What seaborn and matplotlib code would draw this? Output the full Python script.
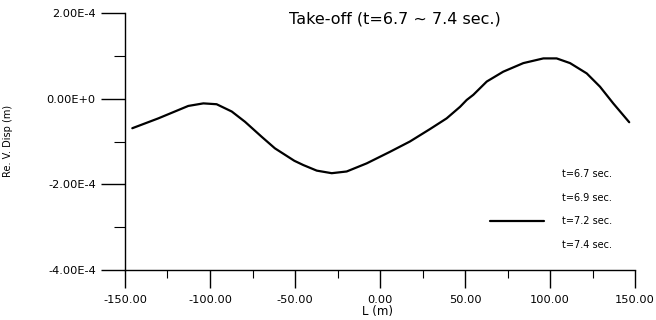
import numpy as np
import pandas as pd
import matplotlib
matplotlib.use("Agg")
import matplotlib.pyplot as plt
from matplotlib.lines import Line2D
from matplotlib.ticker import MultipleLocator
import seaborn as sns

# Data (L in m, displacement in units of 1e-4 m)
L_m = [-145.7, -130.4, -112.8, -103.9, -96.1, -87.2, -79.4, -69.6, -61.8, -50.4,
       -45.1, -37.2, -28.4, -19.6, -7.8, 5.9, 17.6, 29.4, 39.2, 47.1,
       51.0, 54.9, 62.8, 72.5, 84.3, 96.1, 103.9, 111.8, 121.6, 129.4,
       137.2, 146.6]
disp_e4 = [-0.69, -0.46, -0.17, -0.11, -0.13, -0.30, -0.54, -0.89, -1.16, -1.45,
           -1.55, -1.68, -1.74, -1.70, -1.51, -1.24, -1.00, -0.71, -0.46, -0.19,
           -0.03, 0.09, 0.40, 0.63, 0.83, 0.94, 0.94, 0.83, 0.59, 0.28,
           -0.11, -0.55]
series_labels = ["t=6.7 sec.", "t=6.9 sec.", "t=7.2 sec.", "t=7.4 sec."]
visible_series = "t=7.2 sec."
yticks = [-4e-4, -2e-4, 0.0, 2e-4]
ytick_labels = ["-4.00E-4", "-2.00E-4", "0.00E+0", "2.00E-4"]
xticks = [-150, -100, -50, 0, 50, 100, 150]
xtick_labels = ["-150.00", "-100.00", "-50.00", "0.00", "50.00", "100.00", "150.00"]

df = pd.DataFrame({"L": L_m, "disp": np.array(disp_e4) * 1e-4,
                   "series": visible_series})

sns.set_style("ticks")
plt.rcParams['font.family'] = ['DejaVu Sans']
plt.rcParams['text.color'] = 'black'
plt.rcParams['xtick.color'] = 'black'
plt.rcParams['ytick.color'] = 'black'
plt.rcParams['axes.labelcolor'] = 'black'

W, H = 656, 320
fig = plt.figure(figsize=(W / 100, H / 100), dpi=100)
ax = fig.add_axes([125 / W, 1 - 270 / H, (635 - 125) / W, (270 - 13) / H])

sns.lineplot(data=df, x="L", y="disp", color="black", linewidth=1.6,
             ax=ax, legend=False, sort=False)

ax.set_xlim(-150, 150)
ax.set_ylim(-4e-4, 2e-4)
ax.set_xticks(xticks)
ax.set_xticklabels(xtick_labels, fontsize=8.2)
ax.set_yticks(yticks)
ax.set_yticklabels(ytick_labels, fontsize=8.2)
ax.xaxis.set_minor_locator(MultipleLocator(25))
ax.yaxis.set_minor_locator(MultipleLocator(1e-4))
ax.tick_params(axis="both", which="major", direction="out", length=13,
               width=1.0, color="black", labelcolor="black", pad=5)
ax.tick_params(axis="both", which="minor", direction="out", length=6,
               width=0.8, color="black")
ax.tick_params(axis="y", which="major", length=17, pad=4)
ax.tick_params(axis="y", which="minor", length=8)
for s in ["top", "right"]:
    ax.spines[s].set_visible(False)
for s in ["left", "bottom"]:
    ax.spines[s].set_color("black")
    ax.spines[s].set_linewidth(1.0)

ax.set_xlabel("")
ax.set_ylabel("")
fig.text(378 / W, 1 - 311 / H, "L (m)", ha="center", va="center",
         fontsize=8.5, color="black")
fig.text(8 / W, 1 - 141 / H, "Re. V. Disp (m)", ha="center", va="center",
         rotation=90, fontsize=7, color="black")
fig.text(395 / W, 1 - 19 / H, "Take-off (t=6.7 ~ 7.4 sec.)", ha="center",
         va="center", fontsize=11.5, color="black")

handles = []
for lab in series_labels:
    if lab == visible_series:
        handles.append(Line2D([], [], color="black", linewidth=1.6))
    else:
        handles.append(Line2D([], [], color="none", linewidth=1.6))
leg = ax.legend(handles, series_labels, loc="upper left",
                bbox_to_anchor=(490 / W, 1 - 169 / H),
                bbox_transform=fig.transFigure, frameon=False, fontsize=7,
                handlelength=5.6, handletextpad=1.8, labelspacing=1.4,
                borderpad=0, borderaxespad=0)
for t in leg.get_texts():
    t.set_color("black")

fig.savefig("out.png", dpi=100)
